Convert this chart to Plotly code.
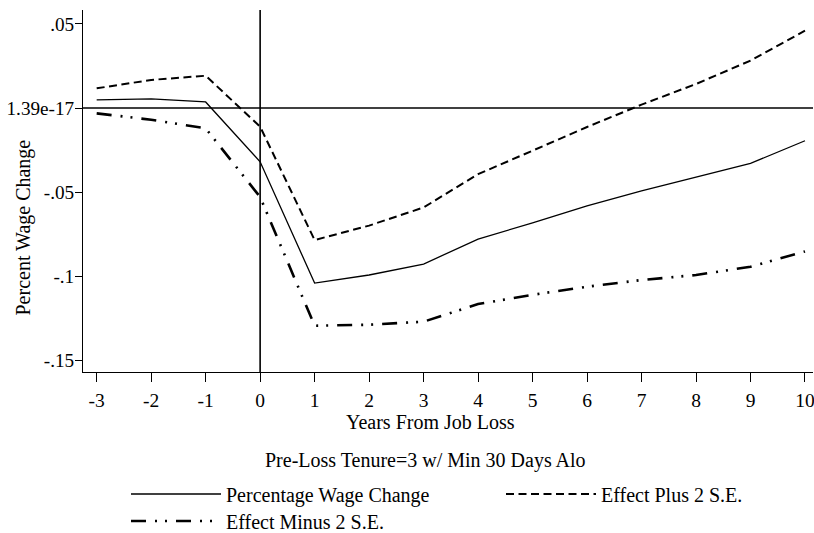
import plotly.graph_objects as go

years = [-3, -2, -1, 0, 1, 2, 3, 4, 5, 6, 7, 8, 9, 10]
x_ticktext = ["-3", "-2", "-1", "0", "1", "2", "3", "4", "5", "6", "7", "8", "9", "10"]
pct_change = [0.0048, 0.0054, 0.0036, -0.0320, -0.1042, -0.0994, -0.0929, -0.0780,
              -0.0684, -0.0582, -0.0494, -0.0413, -0.0330, -0.0195]
plus_2se = [0.0117, 0.0167, 0.0192, -0.0111, -0.0786, -0.0700, -0.0592, -0.0394,
            -0.0254, -0.0113, 0.0020, 0.0143, 0.0282, 0.0460]
minus_2se = [-0.0032, -0.0070, -0.0121, -0.0530, -0.1296, -0.1290, -0.1272, -0.1167,
             -0.1112, -0.1064, -0.1024, -0.0994, -0.0945, -0.0854]
y_tickvals = [0.05, 1.39e-17, -0.05, -0.1, -0.15]
y_ticktext = [".05", "1.39e-17", "-.05", "-.1", "-.15"]

FONT = "Liberation Serif, Times New Roman, serif"
W, H = 814, 533

fig = go.Figure()
fig.add_trace(go.Scatter(x=years, y=pct_change, mode="lines", name="Percentage Wage Change",
                         line=dict(color="black", width=1.3), legend="legend"))
fig.add_trace(go.Scatter(x=years, y=plus_2se, mode="lines", name="Effect Plus 2 S.E.",
                         line=dict(color="black", width=2, dash="8px,4.5px"), legend="legend2"))
fig.add_trace(go.Scatter(x=years, y=minus_2se, mode="lines", name="Effect Minus 2 S.E.",
                         line=dict(color="black", width=2.6, dash="15px,9px,2px,8px,2px,9px"),
                         legend="legend3"))

fig.add_shape(type="line", xref="paper", yref="y", x0=0, x1=1, y0=1.39e-17, y1=1.39e-17,
              line=dict(color="black", width=1.6))
fig.add_shape(type="line", xref="x", yref="paper", x0=0, x1=0, y0=0, y1=1,
              line=dict(color="black", width=1.6))

leg_common = dict(orientation="h", font=dict(family=FONT, size=20, color="black"),
                  itemwidth=90, bgcolor="rgba(0,0,0,0)", xanchor="left", yanchor="middle",
                  xref="container", yref="container")
fig.update_layout(
    width=W, height=H,
    margin=dict(l=83, r=1, t=10, b=161, autoexpand=False),
    paper_bgcolor="white", plot_bgcolor="white",
    font=dict(family=FONT, size=20, color="black"),
    showlegend=True,
    legend=dict(x=126 / W, y=1 - 494 / H, **leg_common),
    legend2=dict(x=501 / W, y=1 - 494 / H, **leg_common),
    legend3=dict(x=126 / W, y=1 - 521 / H, **leg_common),
    xaxis=dict(range=[-3.251, 10.147], tickvals=years, ticktext=x_ticktext, showline=True,
               linecolor="black", linewidth=1, ticks="outside", ticklen=9, tickcolor="black",
               showgrid=False, zeroline=False, tickfont=dict(size=19.5), automargin=False,
               ticklabelstandoff=2, ticklabeloverflow="allow"),
    yaxis=dict(range=[-0.15714, 0.05833], tickvals=y_tickvals, ticktext=y_ticktext,
               showline=True, linecolor="black", linewidth=1, ticks="outside", ticklen=7,
               tickcolor="black", showgrid=False, zeroline=False, tickfont=dict(size=19.2),
               automargin=False, ticklabelstandoff=-3, ticklabeloverflow="allow"),
    annotations=[
        dict(text="Percent Wage Change", xref="paper", yref="paper", x=-0.0815, y=0.3978,
             textangle=-90, xanchor="center", yanchor="middle", showarrow=False,
             font=dict(size=20)),
        dict(text="Years From Job Loss", xref="paper", yref="paper", x=0.4767,
             y=-0.1373, xanchor="center", yanchor="middle", showarrow=False,
             font=dict(size=20)),
        dict(text="Pre-Loss Tenure=3 w/ Min 30 Days Alo", xref="paper", yref="paper",
             x=0.4685, y=-0.245, xanchor="center", yanchor="middle",
             showarrow=False, font=dict(size=20)),
    ],
)

# remove the browser's default 8px body margin so the 814x533 figure fills the window
fig.write_html("out.html", config={"displayModeBar": False},
               post_script="document.body.style.margin='0';")
